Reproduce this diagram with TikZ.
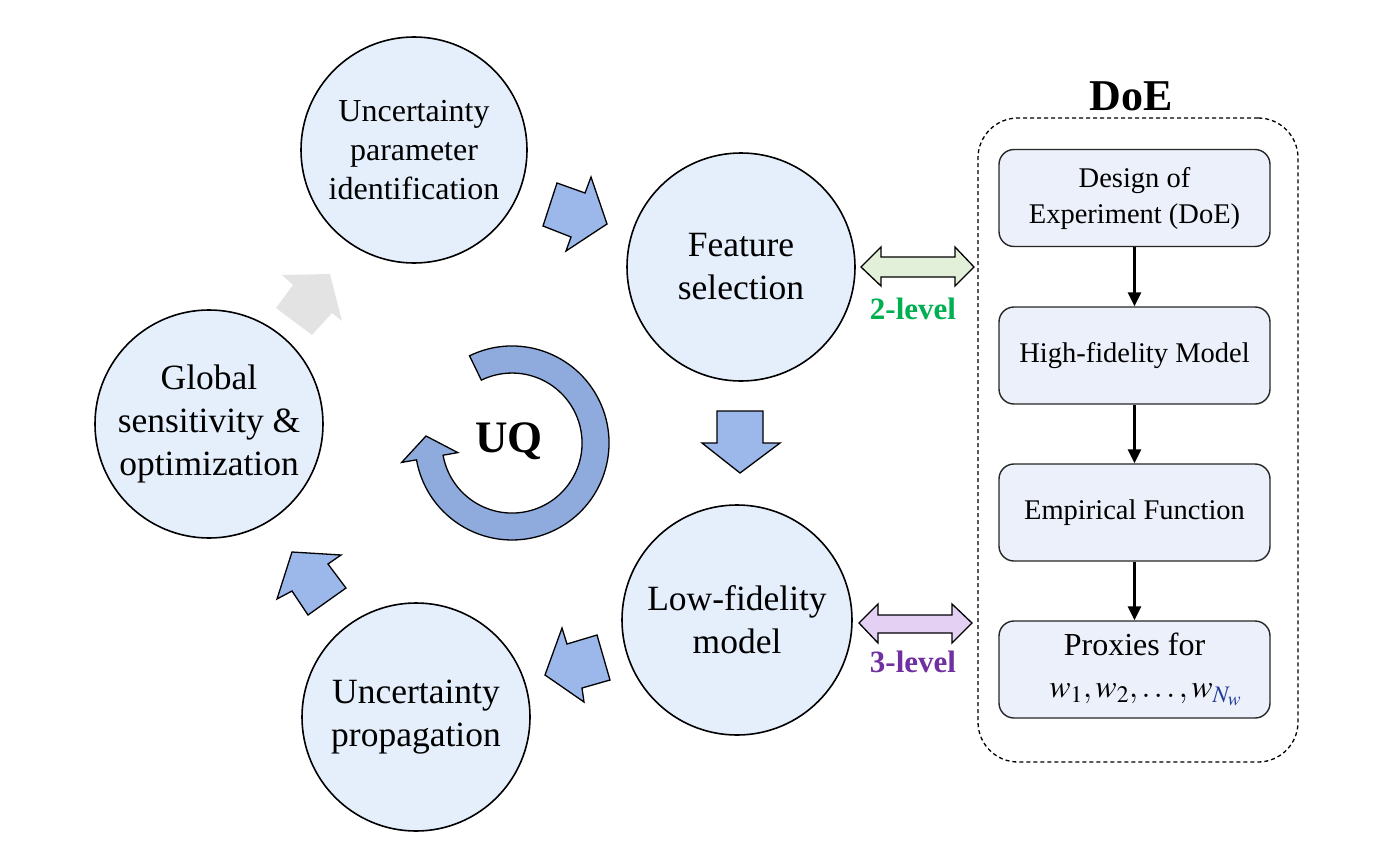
\documentclass[tikz,border=0pt]{standalone}
\usepackage{mathptmx}
\usepackage{fontspec}
\setmainfont{Liberation Serif}
\usetikzlibrary{arrows.meta}
\definecolor{circfill}{HTML}{E5EEFB}
\definecolor{boxfill}{HTML}{ECF0FA}
\definecolor{blockblue}{HTML}{9CB7EA}
\definecolor{ringblue}{HTML}{8FAADC}
\definecolor{greyarrow}{HTML}{E3E3E3}
\definecolor{lvgreen}{HTML}{00B050}
\definecolor{lvpurple}{HTML}{7030A0}
\definecolor{greenfill}{HTML}{E2F0D9}
\definecolor{purplefill}{HTML}{E3D0F2}
\definecolor{subblue}{HTML}{1F3D99}
\begin{document}
\begin{tikzpicture}[x=1pt,y=-1pt,
  circ/.style={circle, draw=black, line width=1.6pt, fill=circfill, inner sep=0pt, minimum size=#1, align=center, font=\fontsize{35.5}{43}\selectfont},
  circ/.default=228pt,
  dbox/.style={draw=black!85, line width=1.4pt, rounded corners=15pt, fill=boxfill, minimum width=271pt, minimum height=97pt, align=center, font=\fontsize{28.5}{36}\selectfont},
  dashbox/.style={draw=black, line width=1.3pt, dash pattern=on 4pt off 3pt, rounded corners=40pt, minimum width=320pt, minimum height=644pt},
  blockarrow/.style={draw=black, line width=1.3pt, fill=blockblue, line join=miter},
  ring/.style={draw=black, line width=1.3pt, fill=ringblue},
  dblarrow/.style={draw=black, line width=1.3pt, line join=miter},
  conn/.style={line width=2.6pt, -{Triangle[length=14pt,width=13pt]}},
  lvl/.style={font=\fontsize{31}{36}\selectfont\bfseries}
]
\useasboundingbox (0,0) rectangle (1373,843);

% circles
\node[circ=226pt, font=\fontsize{32}{39}\selectfont] (up) at (414,150) {Uncertainty\\parameter\\identification};
\node[circ] (fs) at (741,267) {Feature\\selection};
\node[circ] (gs) at (209,424) {Global\\sensitivity \&\\optimization};
\node[circ=230pt] (lf) at (737,620) {Low-fidelity\\model};
\node[circ] (pr) at (416,717) {Uncertainty\\propagation};

% block arrows between circles
\draw[blockarrow] (557,183) -- (585,193) -- (591,177) -- (607,224) -- (566,251) -- (571,237) -- (543,226) -- cycle;
\draw[blockarrow] (717,411) -- (763,411) -- (763,443) -- (780,443) -- (740,473) -- (702,443) -- (717,443) -- cycle;
\draw[blockarrow] (562,628) -- (567,644) -- (597,635) -- (610,680) -- (582,688) -- (584,702) -- (545,675) -- cycle;
\draw[blockarrow] (292,552) -- (341,555) -- (328,564) -- (346,588) -- (308,615) -- (292,591) -- (277,599) -- cycle;
\fill[greyarrow] (282,275) -- (330,274) -- (342,321) -- (332,313) -- (312,335) -- (276,308) -- (293,285) -- cycle;

% UQ ring arrow
\coordinate (uqc) at (512,443);
\draw[ring] (469.5,355.8) arc[start angle=-116, end angle=170, radius=97]
  -- (401.7,462.4) -- (426,436) -- (457.8,452.6) -- (443.1,455.2)
  arc[start angle=170, end angle=-116, radius=70] -- cycle;
\node[font=\fontsize{45}{50}\selectfont\bfseries] (uq) at (509,441) {UQ};

% DoE block
\node[dashbox] (doe) at (1138,440) {};
\node[font=\fontsize{44}{50}\selectfont\bfseries] (doetitle) at (1131,96) {DoE};
\node[dbox] (b1) at (1134.5,198) {Design of\\Experiment (DoE)};
\node[dbox] (b2) at (1134.5,355.5) {High-fidelity Model};
\node[dbox] (b3) at (1134.5,512.5) {Empirical Function};
\node[dbox, font=\fontsize{32}{42}\selectfont] (b4) at (1134.5,669.5) {Proxies for\\\hspace*{22pt}$w_1, w_2, \ldots, w_{\textcolor{subblue}{N_w}}$};
\draw[conn] (b1) -- (b2);
\draw[conn] (b2) -- (b3);
\draw[conn] (b3) -- (b4);

% level arrows
\draw[dblarrow, fill=greenfill] (861,267) -- (881,247) -- (881,257) -- (955,257) -- (955,247) -- (974,267) -- (955,286) -- (955,277) -- (881,277) -- (881,286) -- cycle;
\node[lvl, text=lvgreen] (l2) at (913,309) {2-level};
\draw[dblarrow, fill=purplefill] (859,623) -- (878,604) -- (878,615) -- (952,615) -- (952,604) -- (972,623) -- (952,643) -- (952,633) -- (878,633) -- (878,643) -- cycle;
\node[lvl, text=lvpurple] (l3) at (913,662) {3-level};
\end{tikzpicture}
\end{document}
